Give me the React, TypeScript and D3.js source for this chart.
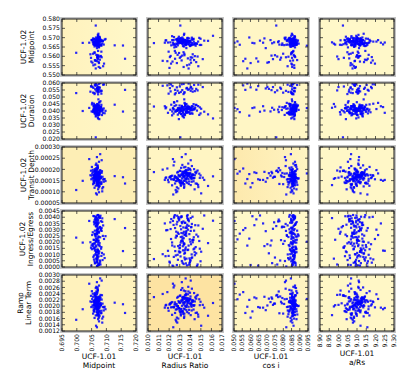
import React from 'react';
import * as d3 from 'd3';

// UCF-1.01 posterior samples (columns)
const mid1 = [
  0.7071, 0.7062, 0.7078, 0.7066, 0.7084, 0.7059, 0.7070, 0.7075, 0.7051, 0.7068, 0.7073, 0.7064, 0.7089, 0.7067, 0.7060, 0.7077, 0.7070, 0.7055, 0.7081, 0.7069,
  0.7063, 0.7074, 0.7097, 0.7066, 0.7058, 0.7072, 0.7079, 0.7048, 0.7068, 0.7061, 0.7075, 0.7070, 0.7065, 0.7083, 0.7057, 0.7071, 0.7064, 0.7076, 0.7069, 0.7052,
  0.7156, 0.7067, 0.7073, 0.7060, 0.7086, 0.7069, 0.7063, 0.7078, 0.7071, 0.7042, 0.7066, 0.7074, 0.7059, 0.7080, 0.7068, 0.7062, 0.7092, 0.7070, 0.7065, 0.7077,
  0.7072, 0.7056, 0.7067, 0.7083, 0.7064, 0.7071, 0.6998, 0.7075, 0.7061, 0.7069, 0.7087, 0.7058, 0.7073, 0.7066, 0.7079, 0.7050, 0.7068, 0.7074, 0.7063, 0.7070,
  0.7065, 0.7082, 0.7069, 0.7054, 0.7076, 0.7067, 0.7060, 0.7072, 0.7094, 0.7064, 0.7071, 0.7057, 0.7078, 0.7068, 0.7062, 0.7085, 0.7070, 0.7046, 0.7074, 0.7066,
  0.7070, 0.7061, 0.7077, 0.7128, 0.7067, 0.7073, 0.7059, 0.7080, 0.7069, 0.7063, 0.7075, 0.7053, 0.7071, 0.7066, 0.7088, 0.7060, 0.7072, 0.7065, 0.7079, 0.7068,
  0.7074, 0.7058, 0.7069, 0.7064, 0.7082, 0.7071, 0.7049, 0.7067, 0.7076, 0.7062, 0.7070, 0.7086, 0.7065, 0.7073, 0.7056, 0.7068, 0.7079, 0.7163, 0.7061, 0.7072,
  0.7067, 0.7077, 0.7060, 0.7070, 0.7091, 0.7064, 0.7073, 0.7055, 0.7069, 0.7081, 0.7066, 0.7071, 0.7058, 0.7075, 0.7063, 0.7068, 0.7084, 0.7020, 0.7072, 0.7065,
];

const radiusRatio1 = [
  0.01338, 0.01295, 0.01402, 0.01251, 0.01366, 0.01317, 0.01443, 0.01282, 0.01354, 0.01211, 0.01389, 0.01330, 0.01476, 0.01305, 0.01361, 0.01246, 0.01418, 0.01344, 0.01172, 0.01397,
  0.01322, 0.01456, 0.01273, 0.01381, 0.01349, 0.01228, 0.01410, 0.01301, 0.01532, 0.01358, 0.01267, 0.01374, 0.01335, 0.01195, 0.01427, 0.01313, 0.01384, 0.01289, 0.01463, 0.01346,
  0.01258, 0.01371, 0.01324, 0.01497, 0.01287, 0.01352, 0.01139, 0.01408, 0.01340, 0.01236, 0.01392, 0.01310, 0.01439, 0.01276, 0.01363, 0.01327, 0.01218, 0.01415, 0.01299, 0.01568,
  0.01377, 0.01244, 0.01333, 0.01451, 0.01306, 0.01368, 0.01262, 0.01421, 0.01347, 0.01183, 0.01399, 0.01319, 0.01485, 0.01280, 0.01356, 0.01229, 0.01404, 0.01337, 0.01269, 0.01431,
  0.01314, 0.01386, 0.01207, 0.01359, 0.01292, 0.01447, 0.01341, 0.01254, 0.01412, 0.01325, 0.01518, 0.01298, 0.01372, 0.01239, 0.01391, 0.01350, 0.01159, 0.01423, 0.01308, 0.01365,
  0.01283, 0.01436, 0.01329, 0.01220, 0.01395, 0.01343, 0.01271, 0.01469, 0.01316, 0.01380, 0.01249, 0.01407, 0.01334, 0.01056, 0.01362, 0.01294, 0.01441, 0.01326, 0.01203, 0.01378,
  0.01353, 0.01263, 0.01419, 0.01311, 0.01490, 0.01339, 0.01232, 0.01385, 0.01302, 0.01458, 0.01345, 0.01277, 0.01401, 0.01189, 0.01369, 0.01320, 0.01433, 0.01256, 0.01357, 0.01615,
  0.01290, 0.01393, 0.01336, 0.01242, 0.01413, 0.01318, 0.01474, 0.01285, 0.01364, 0.01214, 0.01382, 0.01331, 0.01428, 0.01273, 0.01348, 0.01166, 0.01404, 0.01309, 0.01375, 0.01503,
];

const cosi1 = [
  0.0862, 0.0847, 0.0781, 0.0873, 0.0855, 0.0612, 0.0868, 0.0839, 0.0879, 0.0744, 0.0858, 0.0866, 0.0826, 0.0851, 0.0535, 0.0871, 0.0843, 0.0799, 0.0864, 0.0857,
  0.0876, 0.0712, 0.0850, 0.0861, 0.0834, 0.0869, 0.0805, 0.0853, 0.0658, 0.0874, 0.0845, 0.0863, 0.0768, 0.0859, 0.0882, 0.0837, 0.0581, 0.0866, 0.0852, 0.0821,
  0.0860, 0.0870, 0.0728, 0.0848, 0.0865, 0.0889, 0.0842, 0.0791, 0.0856, 0.0503, 0.0867, 0.0831, 0.0878, 0.0854, 0.0693, 0.0862, 0.0849, 0.0814, 0.0872, 0.0858,
  0.0636, 0.0868, 0.0845, 0.0860, 0.0757, 0.0875, 0.0851, 0.0836, 0.0866, 0.0556, 0.0857, 0.0881, 0.0808, 0.0863, 0.0846, 0.0722, 0.0869, 0.0854, 0.0893, 0.0840,
  0.0859, 0.0776, 0.0872, 0.0850, 0.0867, 0.0624, 0.0844, 0.0861, 0.0829, 0.0877, 0.0737, 0.0855, 0.0865, 0.0818, 0.0853, 0.0870, 0.0677, 0.0847, 0.0862, 0.0794,
  0.0857, 0.0884, 0.0838, 0.0866, 0.0521, 0.0852, 0.0874, 0.0763, 0.0860, 0.0843, 0.0871, 0.0703, 0.0856, 0.0864, 0.0822, 0.0849, 0.0880, 0.0593, 0.0867, 0.0854,
  0.0841, 0.0869, 0.0786, 0.0858, 0.0875, 0.0850, 0.0647, 0.0863, 0.0833, 0.0872, 0.0749, 0.0855, 0.0943, 0.0846, 0.0866, 0.0810, 0.0861, 0.0569, 0.0876, 0.0848,
  0.0865, 0.0732, 0.0853, 0.0870, 0.0827, 0.0859, 0.0885, 0.0685, 0.0844, 0.0868, 0.0772, 0.0856, 0.0873, 0.0601, 0.0851, 0.0864, 0.0816, 0.0879, 0.0839, 0.0862,
];

const aRs1 = [
  9.102, 9.061, 9.143, 9.088, 9.125, 9.037, 9.110, 9.074, 9.168, 9.095, 9.052, 9.131, 9.083, 9.116, 9.008, 9.099, 9.147, 9.066, 9.121, 9.091,
  9.079, 9.138, 9.046, 9.107, 9.188, 9.070, 9.113, 9.029, 9.097, 9.155, 9.085, 9.124, 9.058, 9.104, 8.982, 9.119, 9.076, 9.141, 9.093, 9.214,
  9.117, 9.043, 9.100, 9.159, 9.071, 9.128, 9.089, 9.017, 9.108, 9.064, 9.173, 9.096, 9.135, 9.054, 9.111, 9.082, 9.197, 9.069, 9.126, 9.099,
  9.058, 9.134, 9.092, 9.150, 9.024, 9.106, 9.077, 9.122, 9.241, 9.087, 9.049, 9.115, 9.103, 9.163, 9.068, 9.130, 8.965, 9.094, 9.139, 9.081,
  9.112, 9.073, 9.180, 9.098, 9.040, 9.127, 9.084, 9.145, 9.062, 9.109, 9.000, 9.120, 9.090, 9.156, 9.075, 9.101, 9.229, 9.056, 9.118, 9.086,
  9.095, 9.152, 9.033, 9.114, 9.067, 9.136, 9.104, 8.993, 9.080, 9.123, 9.051, 9.176, 9.097, 9.140, 9.072, 9.108, 9.044, 9.129, 9.090, 9.205,
  9.129, 9.060, 9.105, 9.167, 9.083, 9.011, 9.116, 9.093, 9.148, 9.038, 9.101, 9.078, 9.137, 9.250, 9.065, 9.111, 9.087, 9.158, 9.027, 9.096,
  9.084, 9.121, 9.048, 9.133, 9.092, 9.185, 9.070, 9.106, 8.975, 9.117, 9.057, 9.144, 9.100, 9.066, 9.126, 9.035, 9.109, 9.162, 9.079, 9.119,
];

// UCF-1.02 posterior samples (rows)
const mid2 = [
  0.5677, 0.5691, 0.5582, 0.5664, 0.5683, 0.5672, 0.5601, 0.5659, 0.5688, 0.5675, 0.5696, 0.5668, 0.5547, 0.5680, 0.5662, 0.5703, 0.5671, 0.5614, 0.5686, 0.5655,
  0.5674, 0.5569, 0.5693, 0.5666, 0.5679, 0.5708, 0.5660, 0.5592, 0.5684, 0.5670, 0.5651, 0.5689, 0.5676, 0.5625, 0.5663, 0.5698, 0.5535, 0.5681, 0.5667, 0.5687,
  0.5658, 0.5678, 0.5604, 0.5694, 0.5669, 0.5685, 0.5576, 0.5661, 0.5715, 0.5673, 0.5682, 0.5598, 0.5665, 0.5690, 0.5644, 0.5676, 0.5561, 0.5700, 0.5671, 0.5683,
  0.5589, 0.5667, 0.5686, 0.5657, 0.5765, 0.5679, 0.5619, 0.5692, 0.5664, 0.5574, 0.5681, 0.5672, 0.5699, 0.5608, 0.5660, 0.5687, 0.5675, 0.5543, 0.5668, 0.5694,
  0.5682, 0.5663, 0.5596, 0.5676, 0.5705, 0.5670, 0.5653, 0.5629, 0.5689, 0.5666, 0.5585, 0.5678, 0.5697, 0.5662, 0.5556, 0.5684, 0.5673, 0.5611, 0.5691, 0.5669,
  0.5674, 0.5580, 0.5688, 0.5659, 0.5680, 0.5721, 0.5667, 0.5599, 0.5685, 0.5677, 0.5648, 0.5566, 0.5693, 0.5671, 0.5682, 0.5618, 0.5664, 0.5701, 0.5538, 0.5679,
  0.5666, 0.5690, 0.5593, 0.5675, 0.5661, 0.5686, 0.5572, 0.5680, 0.5695, 0.5669, 0.5606, 0.5683, 0.5657, 0.5674, 0.5552, 0.5692, 0.5678, 0.5587, 0.5665, 0.5710,
  0.5684, 0.5670, 0.5622, 0.5687, 0.5663, 0.5578, 0.5679, 0.5696, 0.5668, 0.5602, 0.5681, 0.5655, 0.5690, 0.5564, 0.5676, 0.5685, 0.5595, 0.5672, 0.5699, 0.5661,
];

const duration2 = [
  0.0412, 0.0385, 0.0567, 0.0436, 0.0398, 0.0421, 0.0542, 0.0374, 0.0447, 0.0409, 0.0429, 0.0361, 0.0588, 0.0418, 0.0392, 0.0463, 0.0405, 0.0531, 0.0426, 0.0380,
  0.0433, 0.0558, 0.0401, 0.0417, 0.0452, 0.0369, 0.0424, 0.0575, 0.0395, 0.0414, 0.0441, 0.0388, 0.0410, 0.0524, 0.0431, 0.0378, 0.0596, 0.0419, 0.0403, 0.0458,
  0.0396, 0.0427, 0.0549, 0.0383, 0.0415, 0.0440, 0.0580, 0.0407, 0.0354, 0.0422, 0.0391, 0.0536, 0.0413, 0.0470, 0.0561, 0.0400, 0.0590, 0.0435, 0.0420, 0.0376,
  0.0552, 0.0411, 0.0389, 0.0444, 0.0212, 0.0416, 0.0528, 0.0381, 0.0428, 0.0583, 0.0404, 0.0437, 0.0372, 0.0545, 0.0418, 0.0397, 0.0423, 0.0593, 0.0408, 0.0449,
  0.0402, 0.0430, 0.0563, 0.0393, 0.0342, 0.0425, 0.0411, 0.0519, 0.0384, 0.0419, 0.0571, 0.0439, 0.0399, 0.0416, 0.0555, 0.0371, 0.0434, 0.0538, 0.0406, 0.0427,
  0.0420, 0.0586, 0.0390, 0.0445, 0.0413, 0.0483, 0.0401, 0.0547, 0.0379, 0.0424, 0.0460, 0.0572, 0.0408, 0.0432, 0.0386, 0.0529, 0.0417, 0.0367, 0.0599, 0.0414,
  0.0438, 0.0397, 0.0559, 0.0410, 0.0426, 0.0375, 0.0578, 0.0415, 0.0394, 0.0443, 0.0534, 0.0405, 0.0421, 0.0387, 0.0565, 0.0430, 0.0412, 0.0551, 0.0399, 0.0347,
  0.0407, 0.0423, 0.0521, 0.0382, 0.0418, 0.0591, 0.0435, 0.0403, 0.0450, 0.0540, 0.0392, 0.0428, 0.0411, 0.0569, 0.0377, 0.0419, 0.0544, 0.0400, 0.0437, 0.0416,
];

const depth2 = [
  0.000171, 0.000152, 0.000196, 0.000163, 0.000185, 0.000139, 0.000174, 0.000158, 0.000211, 0.000167, 0.000146, 0.000180, 0.000121, 0.000169, 0.000191, 0.000155, 0.000177, 0.000134, 0.000164, 0.000202,
  0.000160, 0.000183, 0.000148, 0.000226, 0.000172, 0.000129, 0.000166, 0.000194, 0.000153, 0.000178, 0.000098, 0.000170, 0.000188, 0.000143, 0.000161, 0.000207, 0.000157, 0.000176, 0.000136, 0.000182,
  0.000165, 0.000140, 0.000189, 0.000173, 0.000115, 0.000159, 0.000199, 0.000168, 0.000150, 0.000246, 0.000175, 0.000132, 0.000162, 0.000186, 0.000145, 0.000179, 0.000156, 0.000215, 0.000169, 0.000126,
  0.000184, 0.000154, 0.000170, 0.000137, 0.000193, 0.000163, 0.000108, 0.000176, 0.000149, 0.000204, 0.000167, 0.000141, 0.000181, 0.000158, 0.000268, 0.000172, 0.000130, 0.000190, 0.000160, 0.000147,
  0.000177, 0.000135, 0.000165, 0.000198, 0.000151, 0.000187, 0.000118, 0.000171, 0.000157, 0.000220, 0.000163, 0.000144, 0.000180, 0.000088, 0.000168, 0.000192, 0.000153, 0.000174, 0.000138, 0.000184,
  0.000159, 0.000201, 0.000142, 0.000170, 0.000181, 0.000124, 0.000166, 0.000195, 0.000150, 0.000176, 0.000234, 0.000161, 0.000133, 0.000188, 0.000155, 0.000172, 0.000111, 0.000179, 0.000164, 0.000197,
  0.000186, 0.000148, 0.000173, 0.000127, 0.000162, 0.000209, 0.000156, 0.000178, 0.000141, 0.000190, 0.000167, 0.000102, 0.000182, 0.000153, 0.000175, 0.000255, 0.000160, 0.000137, 0.000194, 0.000169,
  0.000152, 0.000183, 0.000164, 0.000218, 0.000145, 0.000174, 0.000131, 0.000189, 0.000158, 0.000168, 0.000206, 0.000139, 0.000177, 0.000120, 0.000185, 0.000162, 0.000241, 0.000149, 0.000171, 0.000093,
];

const ingress2 = [
  0.00231, 0.00387, 0.00052, 0.00164, 0.00312, 0.00408, 0.00095, 0.00276, 0.00143, 0.00359, 0.00018, 0.00205, 0.00334, 0.00121, 0.00268, 0.00397, 0.00077, 0.00186, 0.00295, 0.00040,
  0.00352, 0.00110, 0.00248, 0.00379, 0.00061, 0.00197, 0.00322, 0.00155, 0.00414, 0.00029, 0.00284, 0.00136, 0.00366, 0.00089, 0.00219, 0.00303, 0.00172, 0.00401, 0.00008, 0.00257,
  0.00128, 0.00340, 0.00213, 0.00046, 0.00391, 0.00262, 0.00103, 0.00319, 0.00180, 0.00370, 0.00069, 0.00241, 0.00149, 0.00412, 0.00288, 0.00034, 0.00225, 0.00346, 0.00116, 0.00192,
  0.00383, 0.00081, 0.00270, 0.00160, 0.00329, 0.00013, 0.00236, 0.00404, 0.00132, 0.00297, 0.00056, 0.00361, 0.00209, 0.00098, 0.00315, 0.00173, 0.00393, 0.00024, 0.00252, 0.00142,
  0.00210, 0.00368, 0.00035, 0.00279, 0.00125, 0.00336, 0.00188, 0.00417, 0.00072, 0.00244, 0.00307, 0.00150, 0.00395, 0.00004, 0.00264, 0.00113, 0.00350, 0.00199, 0.00085, 0.00325,
  0.00058, 0.00292, 0.00167, 0.00385, 0.00222, 0.00107, 0.00343, 0.00020, 0.00273, 0.00139, 0.00406, 0.00183, 0.00318, 0.00064, 0.00250, 0.00375, 0.00119, 0.00228, 0.00043, 0.00300,
  0.00356, 0.00093, 0.00216, 0.00399, 0.00147, 0.00283, 0.00011, 0.00330, 0.00176, 0.00260, 0.00076, 0.00363, 0.00203, 0.00130, 0.00410, 0.00048, 0.00239, 0.00313, 0.00157, 0.00372,
  0.00266, 0.00031, 0.00190, 0.00338, 0.00101, 0.00403, 0.00245, 0.00168, 0.00067, 0.00305, 0.00381, 0.00134, 0.00217, 0.00016, 0.00354, 0.00087, 0.00290, 0.00196, 0.00418, 0.00123,
];

const ramp2 = [
  0.00212, 0.00194, 0.00231, 0.00205, 0.00221, 0.00183, 0.00215, 0.00199, 0.00248, 0.00208, 0.00188, 0.00226, 0.00166, 0.00211, 0.00237, 0.00197, 0.00219, 0.00176, 0.00204, 0.00243,
  0.00201, 0.00224, 0.00190, 0.00262, 0.00213, 0.00172, 0.00207, 0.00233, 0.00195, 0.00218, 0.00151, 0.00210, 0.00229, 0.00185, 0.00203, 0.00252, 0.00198, 0.00216, 0.00179, 0.00223,
  0.00206, 0.00181, 0.00228, 0.00214, 0.00160, 0.00200, 0.00239, 0.00209, 0.00192, 0.00272, 0.00217, 0.00174, 0.00203, 0.00227, 0.00187, 0.00220, 0.00196, 0.00256, 0.00211, 0.00169,
  0.00225, 0.00196, 0.00211, 0.00178, 0.00234, 0.00204, 0.00156, 0.00216, 0.00190, 0.00245, 0.00208, 0.00183, 0.00222, 0.00199, 0.00289, 0.00213, 0.00171, 0.00230, 0.00201, 0.00189,
  0.00218, 0.00177, 0.00206, 0.00240, 0.00193, 0.00228, 0.00162, 0.00212, 0.00198, 0.00258, 0.00204, 0.00186, 0.00221, 0.00132, 0.00209, 0.00235, 0.00195, 0.00215, 0.00180, 0.00226,
  0.00200, 0.00242, 0.00184, 0.00211, 0.00222, 0.00167, 0.00207, 0.00236, 0.00191, 0.00217, 0.00266, 0.00202, 0.00175, 0.00229, 0.00197, 0.00213, 0.00158, 0.00220, 0.00205, 0.00238,
  0.00227, 0.00189, 0.00214, 0.00170, 0.00203, 0.00250, 0.00197, 0.00219, 0.00182, 0.00232, 0.00208, 0.00147, 0.00223, 0.00194, 0.00216, 0.00277, 0.00201, 0.00178, 0.00235, 0.00210,
  0.00193, 0.00224, 0.00205, 0.00260, 0.00186, 0.00215, 0.00173, 0.00230, 0.00199, 0.00209, 0.00247, 0.00180, 0.00218, 0.00163, 0.00226, 0.00202, 0.00282, 0.00190, 0.00212, 0.00137,
];

// tick values
const midTicks1 = [0.695, 0.700, 0.705, 0.710, 0.715, 0.720];
const rrTicks1 = [0.010, 0.011, 0.012, 0.013, 0.014, 0.015, 0.016, 0.017];
const cosiTicks1 = [0.050, 0.055, 0.060, 0.065, 0.070, 0.075, 0.080, 0.085, 0.090, 0.095];
const aRsTicks1 = [8.90, 8.95, 9.00, 9.05, 9.10, 9.15, 9.20, 9.25, 9.30];
const midTicks2 = [0.550, 0.555, 0.560, 0.565, 0.570, 0.575, 0.580];
const durTicks2 = [0.020, 0.025, 0.030, 0.035, 0.040, 0.045, 0.050, 0.055, 0.060];
const depthTicks2 = [0.00005, 0.00010, 0.00015, 0.00020, 0.00025, 0.00030];
const ingressTicks2 = [0.0000, 0.0005, 0.0010, 0.0015, 0.0020, 0.0025, 0.0030, 0.0035, 0.0040, 0.0045];
const rampTicks2 = [0.0012, 0.0014, 0.0016, 0.0018, 0.0020, 0.0022, 0.0024, 0.0026, 0.0028, 0.0030];

const cols = [
  { label: ['UCF-1.01', 'Midpoint'], values: mid1, ticks: midTicks1, fmt: '.3f' },
  { label: ['UCF-1.01', 'Radius Ratio'], values: radiusRatio1, ticks: rrTicks1, fmt: '.3f' },
  { label: ['UCF-1.01', 'cos i'], values: cosi1, ticks: cosiTicks1, fmt: '.3f' },
  { label: ['UCF-1.01', 'a/Rs'], values: aRs1, ticks: aRsTicks1, fmt: '.2f' },
];

const rows = [
  { label: ['UCF-1.02', 'Midpoint'], values: mid2, ticks: midTicks2, fmt: '.3f', lx: 26 },
  { label: ['UCF-1.02', 'Duration'], values: duration2, ticks: durTicks2, fmt: '.3f', lx: 26 },
  { label: ['UCF-1.02', 'Transit Depth'], values: depth2, ticks: depthTicks2, fmt: '.5f', lx: 25.5 },
  { label: ['UCF-1.02', 'Ingress/Egress'], values: ingress2, ticks: ingressTicks2, fmt: '.4f', lx: 25 },
  { label: ['Ramp', 'Linear Term'], values: ramp2, ticks: rampTicks2, fmt: '.4f', lx: 22.5 },
];

// panel background shades (left colour, right colour)
const bg = [
  [['#fff2bd', '#fff8c9'], ['#fff8c8', '#fff8c8'], ['#fff6c5', '#fff6c5'], ['#fff8c9', '#fff8c9']],
  [['#fff3bf', '#fff7c6'], ['#fff7c7', '#fff7c7'], ['#fff6c5', '#fff6c5'], ['#fff8c9', '#fff8c9']],
  [['#fdeeb5', '#fdeeb5'], ['#fff5c3', '#fff5c3'], ['#fde9ad', '#fff4c2'], ['#fff7c7', '#fff7c7']],
  [['#fff8c9', '#fff8c9'], ['#fff8c9', '#fff8c9'], ['#fff8c9', '#fff8c9'], ['#fff8c9', '#fff8c9']],
  [['#fff2bd', '#fff2bd'], ['#fde3a2', '#fde3a2'], ['#fff4c1', '#fff4c1'], ['#fff7c6', '#fff7c6']],
];

const colX = [62, 148, 234, 320];
const rowY = [19, 83, 147, 211, 275];
const pw = 74;
const ph = 56;
const tickFont = 6.1;
const labelFont = 7.5;
const font = 'DejaVu Sans, sans-serif';

const textWidth = (s: string, size: number) =>
  s.split('').reduce((w, ch) => w + (ch === '.' ? 0.318 : 0.636), 0) * size;

export default function App() {
  return (
    <svg width={415} height={389} style={{ position: 'absolute', left: 0, top: 0, background: '#fff' }}
      fontFamily={font}>
      <defs>
        {rows.map((r, ri) => cols.map((c, ci) => (
          <React.Fragment key={`d${ri}-${ci}`}>
            <linearGradient id={`g${ri}-${ci}`} x1="0" x2="1" y1="0" y2="0">
              <stop offset="0" stopColor={bg[ri][ci][0]} />
              <stop offset="1" stopColor={bg[ri][ci][1]} />
            </linearGradient>
            <clipPath id={`c${ri}-${ci}`}>
              <rect x={colX[ci]} y={rowY[ri]} width={pw} height={ph} />
            </clipPath>
          </React.Fragment>
        )))}
      </defs>
      {rows.map((r, ri) => cols.map((c, ci) => {
        const x0 = colX[ci];
        const y0 = rowY[ri];
        const x = d3.scaleLinear().domain(d3.extent(c.ticks) as [number, number]).range([x0, x0 + pw]);
        const y = d3.scaleLinear().domain(d3.extent(r.ticks) as [number, number]).range([y0 + ph, y0]);
        const fx = d3.format(c.fmt);
        const fy = d3.format(r.fmt);
        const isBottom = ri === rows.length - 1;
        const isLeft = ci === 0;
        const maxW = d3.max(c.ticks, (t) => textWidth(fx(t), tickFont)) as number;
        return (
          <g key={`p${ri}-${ci}`}>
            <rect x={x0 - 1} y={y0 - 1} width={pw + 2} height={ph + 2} fill="none" stroke="#c4c4c4" strokeWidth={2} />
            <rect x={x0} y={y0} width={pw} height={ph} fill={`url(#g${ri}-${ci})`} />
            <g clipPath={`url(#c${ri}-${ci})`}>
              {c.values.map((v, k) => (
                <rect key={k} x={x(v) - 1.1} y={y(r.values[k]) - 1.1} width={2.2} height={2.2} fill="#0000ff" fillOpacity={0.85} />
              ))}
            </g>
            {c.ticks.map((t, k) => (
              <g key={`xt${k}`} stroke="#333" strokeWidth={0.8}>
                <line x1={x(t)} x2={x(t)} y1={y0 + ph} y2={y0 + ph - 3} />
                <line x1={x(t)} x2={x(t)} y1={y0} y2={y0 + 3} />
              </g>
            ))}
            {r.ticks.map((t, k) => (
              <g key={`yt${k}`} stroke="#333" strokeWidth={0.8}>
                <line x1={x0} x2={x0 + 3} y1={y(t)} y2={y(t)} />
                <line x1={x0 + pw} x2={x0 + pw - 3} y1={y(t)} y2={y(t)} />
              </g>
            ))}
            <rect x={x0} y={y0} width={pw} height={ph} fill="none" stroke="#1a1a1a" strokeWidth={1} />
            {isLeft && r.ticks.map((t, k) => (
              <text key={`yl${k}`} x={x0 - 2} y={y(t)} dy="0.35em" textAnchor="end" fontSize={tickFont} fill="#000">{fy(t)}</text>
            ))}
            {isBottom && c.ticks.map((t, k) => (
              <text key={`xl${k}`} transform={`translate(${x(t)},${y0 + ph + 3}) rotate(-90)`} dy="0.35em"
                textAnchor="end" fontSize={tickFont} fill="#000">{fx(t)}</text>
            ))}
            {isBottom && c.label.map((s, k) => (
              <text key={`xa${k}`} x={x0 + pw / 2} y={y0 + ph + 3 + maxW + 8 + k * 9} textAnchor="middle"
                fontSize={labelFont} fill="#000">{s}</text>
            ))}
            {isLeft && r.label.map((s, k) => (
              <text key={`ya${k}`} transform={`translate(${r.lx + k * 8},${y0 + ph / 2}) rotate(-90)`}
                textAnchor="middle" fontSize={labelFont} fill="#000">{s}</text>
            ))}
          </g>
        );
      }))}
    </svg>
  );
}
